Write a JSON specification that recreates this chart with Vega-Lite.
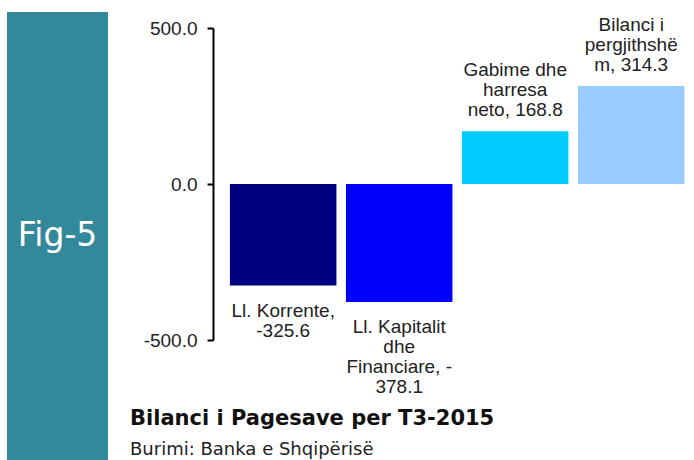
{
  "$schema": "https://vega.github.io/schema/vega-lite/v6.json",
  "padding": {"left": 7, "top": 12, "right": 0, "bottom": 0},
  "background": "white",
  "spacing": 22,
  "config": {"view": {"stroke": null}},
  "hconcat": [
    {
      "width": 101,
      "height": 448,
      "view": {"fill": "#338899", "stroke": null},
      "data": {"values": [{"fig": "Fig-5"}]},
      "mark": {"type": "text", "font": "DejaVu Sans", "fontSize": 33, "color": "white", "baseline": "middle", "align": "center"},
      "encoding": {"text": {"field": "fig"}}
    },
    {
      "width": 481,
      "height": 385,
      "title": {
        "text": "Bilanci i Pagesave per T3-2015",
        "subtitle": "Burimi: Banka e Shqipërisë",
        "orient": "bottom",
        "anchor": "start",
        "frame": "group",
        "dx": -83,
        "offset": 11,
        "font": "DejaVu Sans",
        "fontSize": 21,
        "fontWeight": "bold",
        "color": "#111111",
        "subtitleFont": "DejaVu Sans",
        "subtitleFontSize": 18,
        "subtitleColor": "#222222",
        "subtitlePadding": 12
      },
      "data": {"values": [
        {"cat": "Ll. Korrente", "value": -325.6, "label": "Ll. Korrente,\n-325.6"},
        {"cat": "Ll. Kapitalit dhe Financiare", "value": -378.1, "label": "Ll. Kapitalit\ndhe\nFinanciare, -\n378.1"},
        {"cat": "Gabime dhe harresa neto", "value": 168.8, "label": "Gabime dhe\nharresa\nneto, 168.8"},
        {"cat": "Bilanci i pergjithshëm", "value": 314.3, "label": "Bilanci i\npergjithshë\nm, 314.3"}
      ]},
      "encoding": {
        "x": {"field": "cat", "type": "nominal", "sort": null, "axis": null,
              "scale": {"type": "band", "paddingInner": 0.082, "paddingOuter": 0.114, "align": 0.64}},
        "y": {"field": "value", "type": "quantitative",
              "scale": {"domain": [-500, 500], "range": [328, 16], "nice": false},
              "axis": {"values": [-500, 0, 500], "labelExpr": "replace(format(datum.value, '.1f'), '\u2212', '-')", "title": null, "grid": false,
                       "domain": true, "domainColor": "#000000", "domainWidth": 2,
                       "ticks": true, "tickColor": "#000000", "tickWidth": 2, "tickSize": 6,
                       "labelFont": "Liberation Sans", "labelFontSize": 19, "labelColor": "#222222", "labelPadding": 10}}
      },
      "layer": [
        {
          "mark": {"type": "bar"},
          "encoding": {
            "color": {"field": "cat", "type": "nominal", "legend": null,
                      "scale": {"domain": ["Ll. Korrente", "Ll. Kapitalit dhe Financiare", "Gabime dhe harresa neto", "Bilanci i pergjithshëm"],
                                "range": ["#000080", "#0000ff", "#00ccff", "#99ccff"]}}
          }
        },
        {
          "transform": [{"filter": "datum.value < 0"}],
          "mark": {"type": "text", "font": "Liberation Sans", "fontSize": 19, "color": "#222222", "baseline": "top", "align": "center", "dy": 16, "lineBreak": "\n", "lineHeight": 20},
          "encoding": {"text": {"field": "label"}}
        },
        {
          "transform": [{"filter": "datum.value >= 0"}],
          "mark": {"type": "text", "font": "Liberation Sans", "fontSize": 19, "color": "#222222", "baseline": "top", "align": "center", "dy": -70, "lineBreak": "\n", "lineHeight": 20},
          "encoding": {"text": {"field": "label"}}
        }
      ]
    }
  ]
}
